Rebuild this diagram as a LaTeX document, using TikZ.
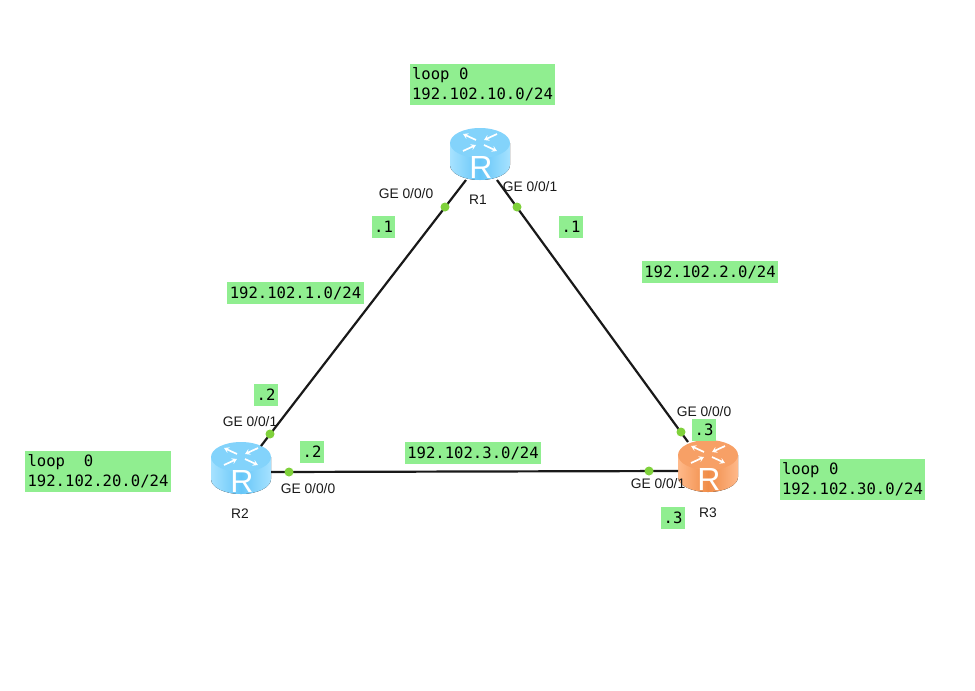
\documentclass[tikz,border=0pt]{standalone}
\usepackage{fontspec}
\setmainfont{Liberation Sans}
\newfontfamily\tagfont{DejaVu Sans Mono}
\usetikzlibrary{arrows.meta}
\definecolor{tagfill}{HTML}{90EE90}
\definecolor{portfill}{HTML}{7FD13B}
\definecolor{blueside}{HTML}{66C6F8}
\definecolor{blueedge}{HTML}{A6E2FF}
\definecolor{orangeside}{HTML}{F08C48}
\definecolor{orangeedge}{HTML}{FFB98A}

\newcommand{\routerbody}[5]{
    % name, x, y, side colour, edge colour
    \begin{scope}[shift = {(#2,#3)}]
        \fill[left color = #5, right color = #5, middle color = #4]
            (-30,-11) -- (-30,11) arc[start angle = 180, end angle = 360, x radius = 30, y radius = -15]
            -- (30,-11) -- cycle;
        \fill[#4!55!#5] (0,-11) ellipse[x radius = 30, y radius = 15];
        \foreach \xa/\ya/\xb/\yb in {-4/-14/-17/-20, 17/-20/4/-14, -17/-3/-4/-9, 4/-9/17/-3} {
            \draw[white, line width = 1.7pt, -{Stealth[length = 5pt, width = 6pt]}] (\xa,\ya) -- (\xb,\yb);
        }
        \node[text = white, font = \fontsize{32}{32}\selectfont, inner sep = 0pt] at (1,13) {R};
    \end{scope}
    \node[shape = rectangle, minimum width = 60pt, minimum height = 52pt, inner sep = 0pt] (#1) at (#2,#3) {};
}

\begin{document}
\begin{tikzpicture}[x = 1pt, y = -1pt,
    tagbox/.style = {fill = tagfill, font = \tagfont\fontsize{15.6}{20}\selectfont, inner xsep = 2.5pt, inner ysep = 0pt, minimum height = 22pt},
    loopbox/.style = {tagbox, align = left, minimum height = 41pt},
    portdot/.style = {shape = circle, fill = portfill, inner sep = 0pt, minimum size = 9pt},
    portname/.style = {font = \fontsize{13.8}{14}\selectfont, inner sep = 0pt, text = black!90},
    link/.style = {line width = 2.2pt, black!90}]
    \useasboundingbox (0,0) rectangle (975,691);

    \routerbody{R1}{480}{154}{blueside}{blueedge}
    \routerbody{R2}{241}{468}{blueside}{blueedge}
    \routerbody{R3}{708}{466}{orangeside}{orangeedge}

    \coordinate (R1W) at (466,180);
    \coordinate (R1E) at (497,180);
    \coordinate (R2N) at (261,446);
    \coordinate (R2E) at (271,472);
    \coordinate (R3N) at (688,442);
    \coordinate (R3W) at (678,471);
    \draw[link] (R1W) -- (R2N);
    \draw[link] (R1E) -- (R3N);
    \draw[link] (R2E) -- (R3W);

    \node[portdot] (P10) at (445,207) {};
    \node[portdot] (P11) at (517,207) {};
    \node[portdot] (P21) at (270,434) {};
    \node[portdot] (P20) at (289,472) {};
    \node[portdot] (P30) at (681,432) {};
    \node[portdot] (P31) at (649,471) {};

    \node[portname] (G10) at (406,194) {GE 0/0/0};
    \node[portname] (G11) at (530,187) {GE 0/0/1};
    \node[portname] (G21) at (250,422) {GE 0/0/1};
    \node[portname] (G20) at (308,489) {GE 0/0/0};
    \node[portname] (G30) at (704,412) {GE 0/0/0};
    \node[portname] (G31) at (658,484) {GE 0/0/1};

    \node[portname] (N1) at (478,200) {R1};
    \node[portname] (N2) at (240,514) {R2};
    \node[portname] (N3) at (708,513) {R3};

    \node[loopbox] (L1) at (482.5,84) {loop 0\\192.102.10.0/24};
    \node[loopbox] (L2) at (98,471.5) {loop\ \ 0\\192.102.20.0/24};
    \node[loopbox] (L3) at (852.5,479.5) {loop 0\\192.102.30.0/24};

    \node[tagbox] (N12) at (295.5,293) {192.102.1.0/24};
    \node[tagbox] (N13) at (710,272) {192.102.2.0/24};
    \node[tagbox] (N23) at (473,453) {192.102.3.0/24};

    \node[tagbox] (A1) at (383.5,227) {.1};
    \node[tagbox] (B1) at (571,227) {.1};
    \node[tagbox] (A2) at (266,395) {.2};
    \node[tagbox] (B2) at (312,452) {.2};
    \node[tagbox] (A3) at (704,430) {.3};
    \node[tagbox] (B3) at (673,518) {.3};
\end{tikzpicture}
\end{document}
